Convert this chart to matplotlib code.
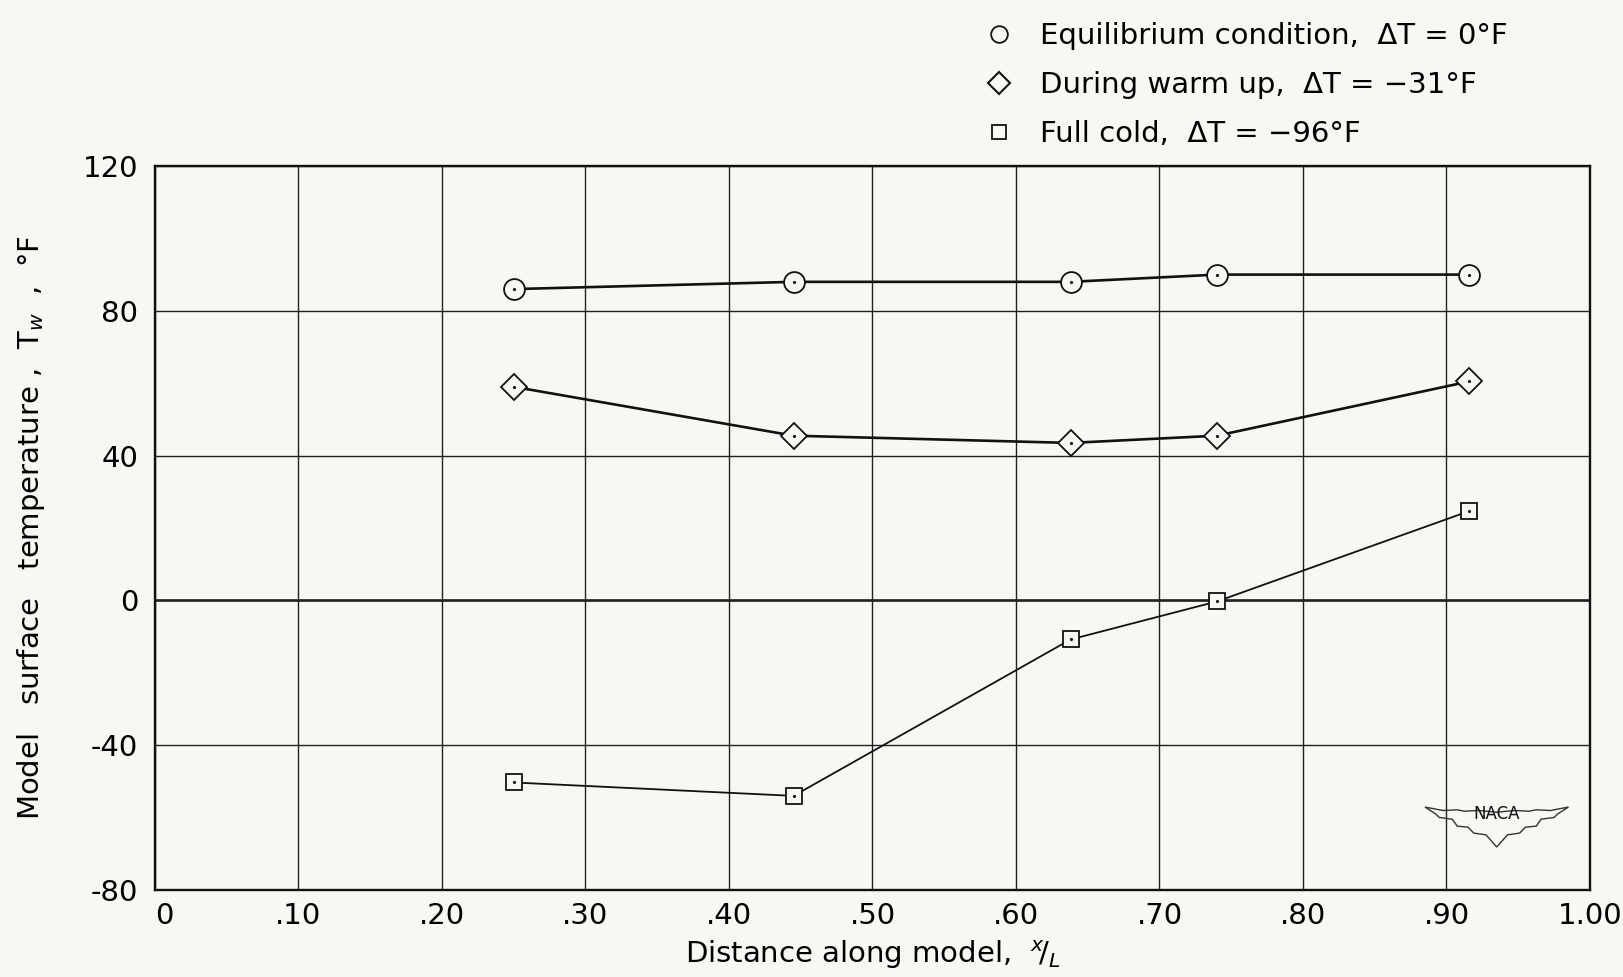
import numpy as np
import matplotlib.pyplot as plt
from matplotlib.lines import Line2D

# Datos (x/L, temperatura en °F)
x_pos = [0.25, 0.445, 0.638, 0.74, 0.916]
t_equilibrium = [86, 88, 88, 90, 90]
t_warmup = [59, 45.5, 43.5, 45.5, 60.5]
t_cold = [-50.3, -54, -10.8, -0.3, 24.7]

x_ticks = [0, 0.1, 0.2, 0.3, 0.4, 0.5, 0.6, 0.7, 0.8, 0.9, 1.0]
x_ticklabels = ['0', '.10', '.20', '.30', '.40', '.50', '.60', '.70', '.80', '.90', '1.00']
y_ticks = [-80, -40, 0, 40, 80, 120]
y_ticklabels = ['-80', '-40', '0', '40', '80', '120']

labels = ['Equilibrium condition,  \u0394T = 0\u00b0F',
          'During warm up,  \u0394T = \u221231\u00b0F',
          'Full cold,  \u0394T = \u221296\u00b0F']

bg = '#f7f7f4'
ink = '#111111'
plt.rcParams['font.family'] = ['DejaVu Sans']

fig = plt.figure(figsize=(16.24, 9.77), dpi=100, facecolor=bg)
ax = fig.add_axes([155/1624, 1 - 890/977, (1590 - 155)/1624, (890 - 166)/977])
ax.set_facecolor(bg)

ax.set_xlim(0, 1.0)
ax.set_ylim(-80, 120)
ax.set_xticks(x_ticks)
ax.set_xticklabels(x_ticklabels)
ax.set_yticks(y_ticks)
ax.set_yticklabels(y_ticklabels)
ax.tick_params(length=0, labelsize=21)
ax.tick_params(axis='y', pad=12)
ax.tick_params(axis='x', pad=9)
ax.get_xticklabels()[0].set_horizontalalignment('left')
ax.grid(True, color='#222222', linewidth=1.0)
ax.axhline(0, color=ink, linewidth=1.8, zorder=1)
for s in ax.spines.values():
    s.set_linewidth(1.7)
    s.set_color(ink)

series = [(t_equilibrium, 'o', 15, 1.9), (t_warmup, 'D', 13, 1.9), (t_cold, 's', 12, 1.3)]
for ys, m, ms, lw in series:
    ax.plot(x_pos, ys, color=ink, linewidth=lw, zorder=3)
    ax.plot(x_pos, ys, linestyle='none', marker=m, markersize=ms,
            markerfacecolor=bg, markeredgecolor=ink, markeredgewidth=1.3, zorder=4)
    ax.plot(x_pos, ys, linestyle='none', marker='.', markersize=2.5,
            color=ink, zorder=5)

ax.set_xlabel('Distance along model,  $^{x}\\!/_{L}$', fontsize=21, labelpad=6)
ax.set_ylabel('Model   surface   temperature ,  T$_w$  ,  \u00b0F', fontsize=21, labelpad=26)

# Leyenda arriba a la derecha
handles = [Line2D([], [], linestyle='none', marker='o', markersize=12,
                  markerfacecolor=bg, markeredgecolor=ink, markeredgewidth=1.3),
           Line2D([], [], linestyle='none', marker='D', markersize=11,
                  markerfacecolor=bg, markeredgecolor=ink, markeredgewidth=1.5),
           Line2D([], [], linestyle='none', marker='s', markersize=10,
                  markerfacecolor=bg, markeredgecolor=ink, markeredgewidth=1.3)]
fig.legend(handles, labels, loc='upper left', bbox_to_anchor=(955/1624, 1 + 4/977),
           frameon=False, fontsize=21, handletextpad=0.8, labelspacing=0.72,
           handlelength=1.2)

# Logo NACA (alas)
u_half = np.array([0.0, 0.25, 0.45, 0.55, 0.75, 1.0, 0.85, 0.8, 0.62, 0.55, 0.4, 0.32, 0.15, 0.0])
v_half = np.array([0.05, 0.1, 0.08, 0.12, 0.1, 0.2, 0.0, -0.1, -0.15, -0.35, -0.38, -0.55, -0.6, -0.95])
u = np.concatenate([u_half, -u_half[::-1]])
v = np.concatenate([v_half, v_half[::-1]])
cx, cy = 0.935, 0.105
ax.fill(cx + u * 0.05, cy + v * 0.048, facecolor='none', edgecolor='#333333',
        linewidth=1.0, transform=ax.transAxes, zorder=2)
ax.text(cx, cy + 0.0, 'NACA', transform=ax.transAxes, fontsize=12,
        ha='center', va='center', color=ink)

fig.savefig('out.png', dpi=100, facecolor=bg)
